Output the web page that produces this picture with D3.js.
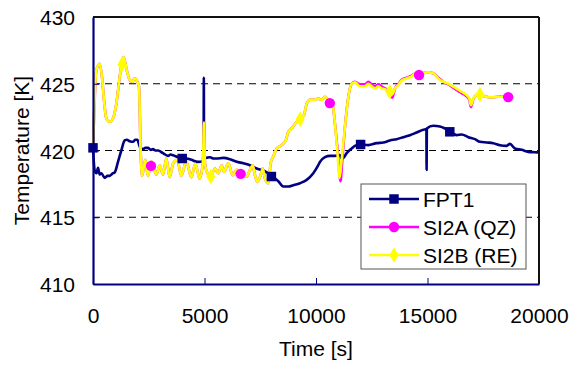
<!DOCTYPE html>
<html><head><meta charset="utf-8">
<script src="https://cdn.jsdelivr.net/npm/d3@7"></script>
<style>
html,body{margin:0;padding:0;background:#fff;}
svg{display:block;}
text{font-family:"Liberation Sans",Arial,sans-serif;fill:#000;}
</style></head>
<body>
<svg id="chart" width="574" height="365"></svg>
<script>
const xTicks = [0, 5000, 10000, 15000, 20000];
const yTicks = [410, 415, 420, 425, 430];
const gridValues = [415, 420, 425];
const seriesNames = ["FPT1", "SI2A (QZ)", "SI2B (RE)"];
const seriesColors = ["#000080", "#FF00FF", "#FFFF00"];

const fpt1 = [[0,420.2],[75,418.5],[160,418.3],[224,418.7],[300,418.2],[374,418.3],[523,417.95],[650,418.1],[747,418.1],[900,418.3],[971,418.35],[1121,419.15],[1270,420.0],[1420,420.75],[1520,420.8],[1644,420.7],[1793,420.65],[1900,420.8],[1988,420.8],[2092,420.3],[2242,420.1],[2350,420.2],[2466,420.2],[2590,420.05],[2690,420.1],[2800,420.0],[2915,420.0],[3139,419.8],[3363,419.6],[3480,419.7],[3587,419.65],[3811,419.5],[4036,419.4],[4200,419.4],[4409,419.3],[4708,419.15],[4960,419.2],[4970,425.45],[4980,419.4],[5100,419.45],[5246,419.5],[5400,419.4],[5545,419.4],[5844,419.45],[6143,419.35],[6443,419.15],[6741,419.05],[7040,418.9],[7340,418.65],[7637,418.5],[8012,418.1],[8310,417.7],[8533,417.3],[8757,417.3],[8981,417.4],[9282,417.55],[9582,417.8],[9878,418.3],[10103,418.9],[10179,419.15],[10403,419.5],[10627,419.6],[10851,419.6],[11075,419.65],[11150,419.4],[11225,419.45],[11376,419.8],[11600,420.15],[11748,420.35],[11972,420.45],[12345,420.4],[12721,420.55],[13017,420.6],[13317,420.75],[13618,420.85],[13914,421.0],[14214,421.15],[14515,421.35],[14811,421.55],[14950,421.6],[14960,418.55],[14970,421.65],[15258,421.85],[15559,421.8],[15783,421.65],[16039,421.4],[16308,421.15],[16532,421.2],[16829,421.0],[17129,420.85],[17353,420.65],[17654,420.6],[17949,420.55],[18250,420.4],[18550,420.35],[18698,420.5],[18922,420.15],[19222,420.05],[19519,419.9],[19819,419.87],[20000,419.85]];

const si2a = [[0,420.0],[149,426.0],[299,426.5],[404,425.5],[493,423.8],[598,422.4],[747,422.15],[897,422.4],[1046,423.5],[1196,425.5],[1270,426.4],[1375,427.0],[1495,426.15],[1644,425.3],[1764,425.15],[1868,425.4],[1988,425.15],[2062,424.8],[2137,420.0],[2197,418.1],[2346,419.3],[2466,418.1],[2615,419.2],[2840,418.2],[2990,418.9],[3139,418.2],[3288,419.4],[3438,418.0],[3587,419.0],[3781,419.3],[3961,418.1],[4185,419.2],[4409,418.0],[4589,419.0],[4783,417.9],[4932,419.2],[4977,422.1],[5022,419.0],[5128,418.3],[5276,418.05],[5471,418.65],[5620,418.3],[5769,418.9],[5874,418.4],[6068,419.05],[6263,418.15],[6443,418.55],[6636,418.3],[6891,418.05],[7040,418.55],[7160,418.9],[7264,418.15],[7369,417.65],[7518,418.15],[7608,418.65],[7712,417.9],[7862,417.55],[7967,419.05],[8086,419.55],[8236,420.15],[8461,420.4],[8654,420.8],[8757,421.4],[8907,421.65],[9132,422.15],[9282,422.35],[9461,422.65],[9582,423.5],[9730,423.8],[9954,423.8],[10103,423.9],[10253,423.78],[10403,424.03],[10552,423.78],[10747,423.4],[10851,422.0],[10980,419.8],[11100,417.7],[11180,419.3],[11300,421.8],[11448,424.0],[11600,425.0],[11748,425.15],[11972,424.95],[12197,424.95],[12345,425.15],[12495,424.95],[12645,424.8],[12794,424.95],[12944,424.8],[13093,424.65],[13317,424.35],[13420,423.95],[13542,424.65],[13690,424.95],[13840,425.3],[14065,425.45],[14290,425.6],[14438,425.75],[14620,425.65],[14811,425.8],[15035,425.85],[15259,425.78],[15484,425.45],[15708,425.15],[15932,424.95],[16156,424.7],[16380,424.45],[16532,424.3],[16756,424.05],[16874,423.8],[16950,423.25],[17054,423.85],[17204,424.15],[17353,424.15],[17578,424.05],[17877,423.98],[18174,424.03],[18398,424.05],[18620,424.0]];

const si2b = [[0,420.0],[149,426.0],[299,426.5],[404,425.5],[493,423.8],[598,422.4],[747,422.15],[897,422.4],[1046,423.5],[1196,425.5],[1270,426.4],[1375,427.0],[1495,426.15],[1644,425.3],[1764,425.15],[1868,425.4],[1988,425.15],[2062,424.8],[2137,420.0],[2197,418.1],[2346,419.3],[2466,418.1],[2615,419.2],[2840,418.2],[2990,418.9],[3139,418.2],[3288,419.4],[3438,418.0],[3587,419.0],[3781,419.3],[3961,418.1],[4185,419.2],[4409,418.0],[4589,419.0],[4783,417.9],[4932,419.2],[4977,422.1],[5022,419.0],[5128,418.3],[5276,418.05],[5471,418.65],[5620,418.3],[5769,418.9],[5874,418.4],[6068,419.05],[6263,418.15],[6443,418.55],[6636,418.3],[6891,418.05],[7040,418.55],[7160,418.9],[7264,418.15],[7369,417.65],[7518,418.15],[7608,418.65],[7712,417.9],[7862,417.55],[7967,419.05],[8086,419.55],[8236,420.15],[8461,420.4],[8654,420.8],[8757,421.4],[8907,421.65],[9132,422.15],[9282,422.35],[9461,422.65],[9582,423.5],[9730,423.8],[9954,423.8],[10103,423.9],[10253,423.78],[10403,424.03],[10552,423.78],[10747,423.4],[10851,422.0],[10955,420.0],[11060,417.95],[11150,419.3],[11300,421.8],[11448,424.0],[11600,425.0],[11748,425.1],[11972,424.8],[12197,424.8],[12345,425.0],[12495,424.8],[12645,424.65],[12794,424.8],[12944,424.65],[13093,424.6],[13317,424.35],[13420,424.2],[13542,424.65],[13690,424.9],[13840,425.25],[14065,425.4],[14290,425.55],[14438,425.75],[14620,425.65],[14811,425.8],[15035,425.85],[15259,425.78],[15484,425.4],[15708,425.15],[15932,425.0],[16156,424.78],[16380,424.55],[16532,424.4],[16756,424.15],[16874,423.9],[16950,423.4],[17054,423.9],[17204,424.15],[17353,424.15],[17578,424.05],[17877,423.98],[18174,424.03],[18398,424.05]];

const fpt1Markers = [[0,420.2],[4000,419.4],[8000,418.05],[12000,420.45],[16000,421.4]];
const si2aMarkers = [[2600,418.85],[6620,418.25],[10620,423.55],[14620,425.65],[18620,424.0]];
const si2bMarkers = [[1300,426.45],[5280,418.05],[9290,422.35],[13310,424.4],[17350,424.2]];

const margin = {left:93, top:17, right:35, bottom:81};
const W = 574, H = 365;
const iw = W - margin.left - margin.right, ih = H - margin.top - margin.bottom;

const svg = d3.select("#chart");
const g = svg.append("g").attr("transform", `translate(${margin.left},${margin.top})`);
const x = d3.scaleLinear().domain([0, 20000]).range([0, iw]);
const y = d3.scaleLinear().domain([410, 430]).range([ih, 0]);

// grid
g.selectAll(".grid").data(gridValues).enter().append("line")
  .attr("x1", 0).attr("x2", iw).attr("y1", d => y(d)).attr("y2", d => y(d))
  .attr("stroke", "#000").attr("stroke-width", 1).attr("stroke-dasharray", "7,5");

const line = d3.line().curve(d3.curveMonotoneX).x(d => x(d[0])).y(d => y(d[1]));
const allSeries = [fpt1, si2a, si2b];
const allMarkers = [fpt1Markers, si2aMarkers, si2bMarkers];
const shapes = [d3.symbolSquare, d3.symbolCircle, d3.symbolDiamond];
const shapeSizes = [90, 85, 70];

allSeries.forEach((s, i) => {
  g.append("path").datum(s).attr("d", line).attr("fill", "none")
    .attr("stroke", seriesColors[i]).attr("stroke-width", 2.6)
    .attr("stroke-linejoin", "round");
});
allMarkers.forEach((m, i) => {
  g.selectAll(".m" + i).data(m).enter().append("path")
    .attr("transform", d => `translate(${x(d[0])},${y(d[1])})`)
    .attr("d", d3.symbol().type(shapes[i]).size(shapeSizes[i]))
    .attr("fill", seriesColors[i]);
});

// frame: top and right dark
g.append("line").attr("x1", 0).attr("x2", iw).attr("y1", 0).attr("y2", 0).attr("stroke", "#111").attr("stroke-width", 2);
g.append("line").attr("x1", iw).attr("x2", iw).attr("y1", 0).attr("y2", ih).attr("stroke", "#111").attr("stroke-width", 2);

// axes
const xAxis = g.append("g").attr("transform", `translate(0,${ih})`)
  .call(d3.axisBottom(x).tickValues(xTicks).tickFormat(d3.format("d")).tickSizeInner(-6).tickSizeOuter(0).tickPadding(24));
const yAxis = g.append("g")
  .call(d3.axisLeft(y).tickValues(yTicks).tickFormat(d3.format("d")).tickSizeInner(-6).tickSizeOuter(0).tickPadding(18));
[xAxis, yAxis].forEach(a => {
  a.select(".domain").attr("stroke", "#000080").attr("stroke-width", 2.2);
  a.selectAll(".tick line").attr("stroke", "#000080").attr("stroke-width", 1);
  a.selectAll("text").style("font-size", "21px").attr("fill", "#000");
});
yAxis.selectAll("text").attr("dy", "0.36em");
xAxis.selectAll("text").attr("dy", "0.71em");

// axis titles
svg.append("text").attr("x", margin.left + iw / 2).attr("y", 356)
  .attr("text-anchor", "middle").style("font-size", "21px").text("Time [s]");
svg.append("text").attr("transform", `translate(29,${margin.top + ih / 2}) rotate(-90)`)
  .attr("text-anchor", "middle").style("font-size", "21px").text("Temperature [K]");

// legend
const leg = svg.append("g").attr("transform", "translate(361,184)");
leg.append("rect").attr("x", 0).attr("y", 0).attr("width", 165).attr("height", 85)
  .attr("fill", "#fff").attr("stroke", "#555").attr("stroke-width", 1);
seriesNames.forEach((name, i) => {
  const cy = 15 + i * 28;
  leg.append("line").attr("x1", 8).attr("x2", 58).attr("y1", cy).attr("y2", cy)
    .attr("stroke", seriesColors[i]).attr("stroke-width", 2.6);
  leg.append("path").attr("transform", `translate(33,${cy})`)
    .attr("d", d3.symbol().type(shapes[i]).size(shapeSizes[i])).attr("fill", seriesColors[i]);
  leg.append("text").attr("x", 62).attr("y", cy + 7.5).style("font-size", "21px").text(name);
});
</script>
</body></html>
